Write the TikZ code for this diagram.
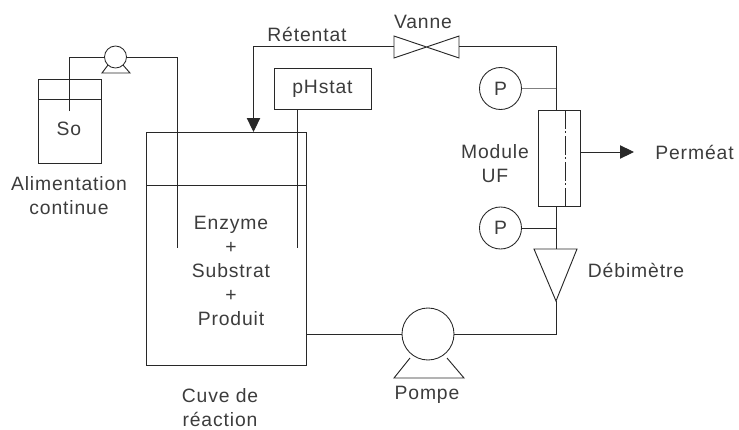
\documentclass[tikz,border=0pt]{standalone}
\usepackage{fontspec}
\setmainfont[LetterSpace=4.5]{Liberation Sans}
\usetikzlibrary{arrows.meta}
\definecolor{trait}{RGB}{40,40,40}
\definecolor{texte}{RGB}{60,60,60}
\tikzset{
  pipe/.style={draw=trait,line width=0.7pt},
  vessel/.style={draw=trait,line width=0.7pt,inner sep=0pt,minimum width=#1},
  gauge/.style={draw=trait,line width=0.65pt,circle,inner sep=0pt,minimum size=31.5pt,text=texte},
  pumphead/.style={draw=trait,line width=0.65pt,circle,inner sep=0pt,minimum size=#1},
  label/.style={text=texte,align=center,inner sep=0pt,font=\fontsize{14.5}{18}\selectfont},
  flow/.style={-{Triangle[length=10.5pt,width=10pt]}}
}
\begin{document}
\begin{tikzpicture}[x=0.75pt,y=-0.75pt]
\useasboundingbox (0,0) rectangle (739,429);
% bacs
\node [vessel=47.25pt,minimum height=63pt] (tank) at (69.5,121) {};
\node [vessel=120pt,minimum height=174.75pt] (cuve) at (226,248.5) {};
\node [vessel=72.75pt,minimum height=30.75pt,label] (phstat) at (322.5,88.5) {pHstat};
\node [vessel=31.5pt,minimum height=72pt] (module) at (559,158) {};
\draw [pipe] (38,99)--(101,99);
\draw [pipe] (146,185)--(306,185);
% pompes
\node [pumphead=16.5pt] (pumpA) at (115.5,57) {};
\node [pumphead=39pt] (pumpB) at (428,334) {};
\draw [pipe] (108,65)--(102,73)--(130,73)--(123,65);
\draw [pipe] (410,358)--(394,378)--(464,378)--(447,358);
% vanne
\coordinate (valveL) at (394,46);
\coordinate (valveR) at (459,46);
\draw [pipe] (394,36)--(459,58)--(459,36)--(394,58)--cycle;
% manometres
\node [gauge] (gaugeA) at (500.5,88.5) {\fontsize{14.5}{18}\selectfont P};
\node [gauge] (gaugeB) at (500.5,228) {\fontsize{14.5}{18}\selectfont P};
% debitmetre
\coordinate (flowTop) at (556,249);
\coordinate (flowEnd) at (556,301);
\draw [pipe] (534,249)--(577,249)--(flowEnd)--cycle;
% circuit
\coordinate (dipA) at (69.5,111);
\coordinate (dipB) at (177,248);
\coordinate (dipC) at (297,248);
\coordinate (inlet) at (253.5,132);
\coordinate (outlet) at (306,334);
\coordinate (moduleTop) at (556,110.5);
\coordinate (moduleBot) at (556,206);
\coordinate (permOut) at (634,152);
\draw [pipe] (dipA)|-(pumpA.west);
\draw [pipe] (pumpA.east)-|(dipB);
\draw [pipe] (phstat.south -| dipC)--(dipC);
\draw [pipe,flow] (valveL)-|(inlet);
\draw [pipe] (valveR)-|(moduleTop);
\draw [pipe] (moduleBot)--(flowTop);
\draw [pipe] (flowEnd)|-(pumpB.east);
\draw [pipe] (pumpB.west)--(outlet);
\draw [pipe,flow] (module.east |- permOut)--(permOut);
\draw [draw=gray,line width=0.5pt] (gaugeA.east)--(gaugeA.east -| moduleTop);
\draw [pipe] (gaugeB.east)--(gaugeB.east -| moduleTop);
\draw [draw=trait,line width=0.6pt,dash pattern=on 14pt off 2pt on 1.5pt off 2pt] (565,110)--(565,206);
% textes
\node [label] (soLabel) at (69,129) {So};
\node [label] (aliment) at (69,196) {Alimentation\\continue};
\node [label] (retentat) at (307,34) {Rétentat};
\node [label] (vanne) at (423,22) {Vanne};
\node [label] (modLabel) at (495,163.5) {Module\\UF};
\node [label] (permeat) at (694.5,152) {Perméat};
\node [label] (debit) at (636,270) {Débimètre};
\node [label] (melange) at (231,271) {Enzyme\\+\\Substrat\\+\\Produit};
\node [label] (cuveLabel) at (220,408) {Cuve de\\réaction};
\node [label] (pompe) at (427,395) {Pompe};
\end{tikzpicture}
\end{document}
